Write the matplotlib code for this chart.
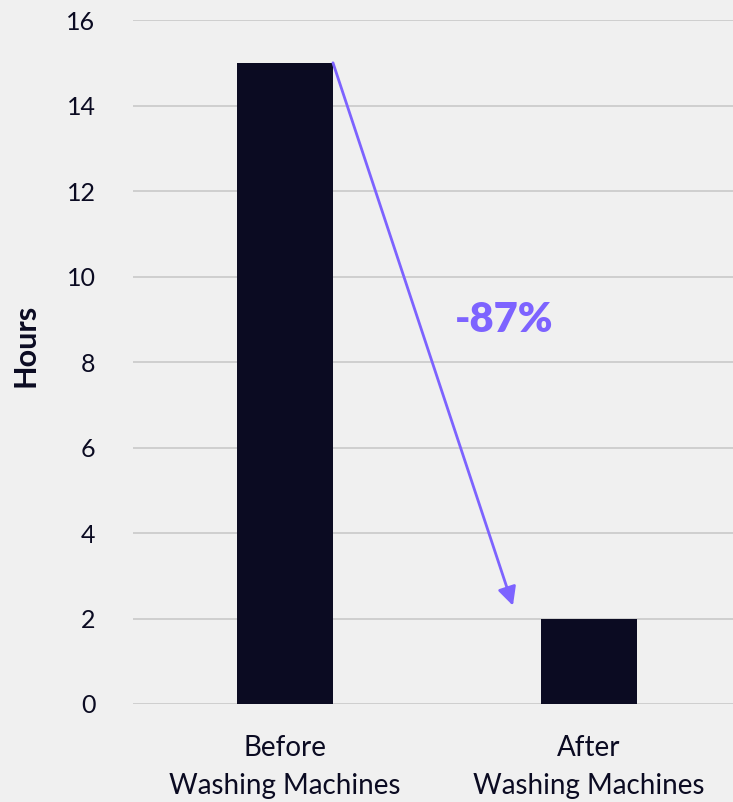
import matplotlib.pyplot as plt

# data
categories = ['Before\nWashing Machines', 'After\nWashing Machines']
hours = [15, 2]
change_label = '-87%'

ink = '#0b0b22'
purple = '#7d63ff'
bg = '#f0f0f0'

plt.rcParams['font.family'] = ['Lato', 'DejaVu Sans']

fig = plt.figure(figsize=(7.33, 8.02), dpi=100, facecolor=bg)
ax = fig.add_axes([0.1814, 0.1222, 0.8186, 0.8528], facecolor=bg)

x = list(range(len(categories)))
bar_w = 0.316
ax.bar(x, hours, width=bar_w, color=ink, zorder=3)

ax.set_xlim(-0.5, 1.474)
ax.set_ylim(0, 16)
ax.set_yticks(range(0, 17, 2))
ax.grid(axis='y', color='#cfcfcf', linewidth=1.4, zorder=0)
ax.set_axisbelow(True)
for s in ax.spines.values():
    s.set_visible(False)
ax.tick_params(axis='both', length=0, labelsize=18, colors=ink)
ax.tick_params(axis='y', pad=27)
ax.tick_params(axis='x', pad=22, labelsize=20)
ax.set_xticks(x)
ax.set_xticklabels(categories, linespacing=1.6)

ax.set_ylabel('Hours', fontsize=22, fontweight='bold', color=ink)
ax.yaxis.set_label_coords(-0.155, 0.525)

# arrow from top of the first bar down to the second
ax.annotate('', xy=(0.75, 2.3), xytext=(x[0] + bar_w / 2, hours[0]),
            arrowprops=dict(arrowstyle='-|>', color=purple, lw=2,
                            mutation_scale=28, shrinkA=0, shrinkB=0),
            zorder=4)
ax.text(0.72, 8.98, change_label, color=purple, fontsize=30,
        fontweight='heavy', ha='center', va='center')

fig.savefig('out.png', dpi=100, facecolor=bg)
